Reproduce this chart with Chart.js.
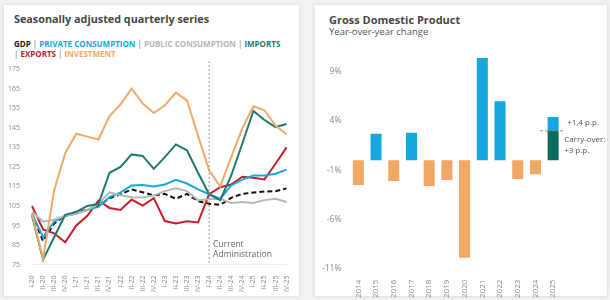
<!DOCTYPE html>
<html>
<head>
<meta charset="utf-8">
<script src="https://cdn.jsdelivr.net/npm/chart.js@4.4.1/dist/chart.umd.min.js"></script>
<style>
  body { margin: 0; width: 610px; height: 300px; background: #f2f2f2; font-family: "Open Sans", sans-serif; position: relative; overflow: hidden; }
  .card { position: absolute; background: #fff; box-shadow: 0 0 4px rgba(0,0,0,0.12); }
  .title { position: absolute; font-weight: 700; color: #474747; white-space: nowrap; }
  .sub { position: absolute; color: #555; white-space: nowrap; }
  .legend { position: absolute; font-size: 8px; font-weight: 700; line-height: 10px; color: #aaa; }
  canvas { position: absolute; }
</style>
</head>
<body>
<div class="card" style="left:4px;top:5px;width:295px;height:291px"></div>
<div class="card" style="left:315px;top:5px;width:292px;height:291px"></div>

<div class="title" style="left:14px;top:11px;font-size:10.8px">Seasonally adjusted quarterly series</div>
<div class="legend" style="left:14px;top:39px;width:280px">
  <span style="color:#222">GDP</span> | <span style="color:#1aa7de">PRIVATE CONSUMPTION</span> | <span style="color:#b3b8bd">PUBLIC CONSUMPTION</span> | <span style="color:#1e7a6b">IMPORTS</span><br>
  | <span style="color:#c4202b">EXPORTS</span> | <span style="color:#f2aa68">INVESTMENT</span>
</div>

<div class="title" style="left:329px;top:12px;font-size:11px">Gross Domestic Product</div>
<div class="sub" style="left:329px;top:25px;font-size:9.5px">Year-over-year change</div>

<canvas id="quarterly" style="left:4px;top:61px;width:294px;height:236px" width="294" height="236"></canvas>
<canvas id="annual" style="left:315px;top:45px;width:295px;height:256px" width="295" height="256"></canvas>

<script>
// quarterly series (index, base = 100)
const quarters = ['I-20','II-20','III-20','IV-20','I-21','II-21','III-21','IV-21','I-22','II-22','III-22','IV-22',
  'I-23','II-23','III-23','IV-23','I-24','II-24','III-24','IV-24','I-25','II-25','III-25','IV-25']
const gdp = [101, 87, 96, 100, 102, 103, 105, 109, 111, 113.5, 112, 110.4, 111.2, 108.7, 111.2, 107.5, 106.1, 105.6, 109.2, 111.2, 111.9, 112.4, 112.6, 114]
const privateCons = [101, 89, 97, 100, 101, 103, 104.5, 109.5, 112, 115.5, 115.8, 115, 116, 118.4, 116.5, 113.5, 111, 108.7, 115.5, 118.5, 120.6, 120.6, 121.5, 123.6]
const publicCons = [102, 97, 98, 100, 101, 103, 106, 112, 110.5, 109.5, 109.4, 110.4, 112.6, 114, 112.6, 108, 108.5, 108.7, 106.5, 107, 106.5, 108, 108.7, 107]
const imports = [100, 77.5, 89, 100.5, 102, 105, 106, 122, 125, 131.4, 130.6, 124, 130, 136.5, 133.5, 122, 111, 108, 120.6, 137, 153.6, 149, 145.4, 147]
const exportsS = [105, 93, 91, 86.4, 95, 100, 107.8, 104, 103, 108.3, 105.2, 109, 97.3, 96, 97.2, 96.6, 111, 114.6, 116, 120, 119.5, 118.6, 126.6, 135]
const investment = [101, 78, 113, 132, 142, 140.5, 139, 151, 157, 165, 157.5, 152.6, 156.5, 163, 159, 141, 123.2, 115, 130, 144.7, 156, 154, 146, 141.7]
const adminStart = 'I-24'

// annual GDP growth, %
const years = ['2014','2015','2016','2017','2018','2019','2020','2021','2022','2023','2024','2025']
const growth = [-2.5, 2.7, -2.1, 2.8, -2.6, -2.0, -9.9, 10.4, 6.0, -1.9, -1.4, null]
const carryOver = [null, null, null, null, null, null, null, null, null, null, null, 3.0]
const increment = [null, null, null, null, null, null, null, null, null, null, null, 1.4]
const growthTicks = [-11, -6, -1, 4, 9]

const BLUE = '#17a6dd'
const ORANGE = '#f1a865'
const GREEN = '#0d6b60'
const TICK = '#8a8a8a'

function line(data, color, dash) {
  return {
    data: data,
    borderColor: color,
    borderWidth: 2,
    borderDash: dash || [],
    pointRadius: 0,
    tension: 0,
    fill: false
  }
}

// dashed vertical line for the current administration
const adminLine = {
  id: 'adminLine',
  afterDatasetsDraw(chart) {
    const x = chart.scales.x.getPixelForValue(quarters.indexOf(adminStart))
    const ctx = chart.ctx
    ctx.save()
    ctx.strokeStyle = '#999'
    ctx.lineWidth = 1
    ctx.setLineDash([2, 2])
    ctx.beginPath()
    ctx.moveTo(x, 0)
    ctx.lineTo(x, chart.chartArea.bottom)
    ctx.stroke()
    ctx.setLineDash([])
    ctx.fillStyle = '#666'
    ctx.font = '8.5px "Open Sans"'
    ctx.textBaseline = 'middle'
    ctx.fillText('Current', x + 4, chart.chartArea.bottom - 20)
    ctx.fillText('Administration', x + 4, chart.chartArea.bottom - 10)
    ctx.restore()
  }
}

new Chart(document.getElementById('quarterly'), {
  type: 'line',
  data: {
    labels: quarters,
    datasets: [
      line(investment, '#f2aa68'),
      line(imports, '#1e7a6b'),
      line(publicCons, '#b3b8bd'),
      line(privateCons, '#1aa7de'),
      line(exportsS, '#c4202b'),
      line(gdp, '#111', [5, 3])
    ]
  },
  options: {
    responsive: false,
    animation: false,
    layout: { padding: { left: 0, right: 4, top: 8, bottom: 2 } },
    plugins: { legend: { display: false }, tooltip: { enabled: false } },
    scales: {
      x: {
        grid: { display: false },
        border: { color: '#eee' },
        ticks: { color: TICK, font: { size: 7, family: 'Open Sans' }, maxRotation: 90, minRotation: 90, autoSkip: false, padding: 3 }
      },
      y: {
        min: 75, max: 175,
        grid: { display: false },
        border: { display: false },
        ticks: { stepSize: 10, color: TICK, font: { size: 7, family: 'Open Sans' }, padding: 4 }
      }
    }
  },
  plugins: [adminLine]
})

// carry-over annotation for 2025
const carryNote = {
  id: 'carryNote',
  afterDatasetsDraw(chart) {
    const i = years.length - 1
    const x = chart.scales.x.getPixelForValue(i)
    const y = chart.scales.y.getPixelForValue(carryOver[i])
    const yTop = chart.scales.y.getPixelForValue(carryOver[i] + increment[i])
    const ctx = chart.ctx
    ctx.save()
    ctx.strokeStyle = '#777'
    ctx.lineWidth = 0.8
    ctx.setLineDash([3, 2])
    ctx.beginPath()
    ctx.moveTo(x - 13, y)
    ctx.lineTo(x + 10, y)
    ctx.stroke()
    ctx.fillStyle = '#555'
    ctx.font = '8px "Open Sans"'
    ctx.textBaseline = 'middle'
    ctx.fillText('+1,4 p.p.', x + 14, (y + yTop) / 2 - 1)
    ctx.fillText('Carry-over:', x + 11, y + 9)
    ctx.fillText('+3 p.p.', x + 11, y + 20)
    ctx.restore()
  }
}

new Chart(document.getElementById('annual'), {
  type: 'bar',
  data: {
    labels: years,
    datasets: [
      { data: growth, backgroundColor: growth.map(v => v >= 0 ? BLUE : ORANGE) },
      { data: carryOver, backgroundColor: GREEN },
      { data: increment, backgroundColor: BLUE }
    ]
  },
  options: {
    responsive: false,
    animation: false,
    layout: { padding: { left: 7, right: 48, top: 7, bottom: 0 } },
    datasets: { bar: { barPercentage: 0.78, categoryPercentage: 0.8 } },
    plugins: { legend: { display: false }, tooltip: { enabled: false } },
    scales: {
      x: {
        stacked: true,
        grid: { display: false },
        border: { display: false },
        ticks: { color: TICK, font: { size: 8, family: 'Open Sans' }, maxRotation: 90, minRotation: 90, autoSkip: false, padding: 3 }
      },
      y: {
        stacked: true,
        min: -11, max: 11,
        grid: { display: false },
        border: { display: false },
        afterBuildTicks: scale => { scale.ticks = growthTicks.map(v => ({ value: v })) },
        ticks: { color: TICK, font: { size: 8.5, family: 'Open Sans' }, padding: 0, callback: v => v + '%' }
      }
    }
  },
  plugins: [carryNote]
})
</script>
</body>
</html>
